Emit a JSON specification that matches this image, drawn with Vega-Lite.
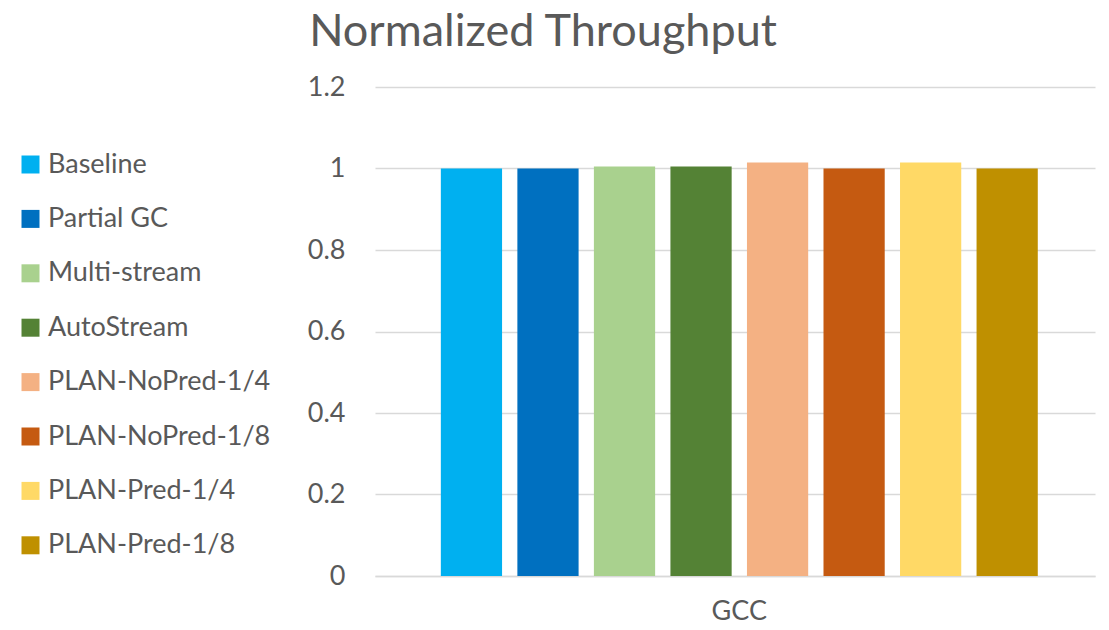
{
  "$schema": "https://vega.github.io/schema/vega-lite/v6.json",
  "autosize": "none",
  "width": 720,
  "height": 489,
  "padding": {"left": 375, "top": 87, "right": 14, "bottom": 54},
  "background": "white",
  "config": {
    "font": "Lato",
    "view": {"stroke": null}
  },
  "title": {
    "text": "Normalized Throughput",
    "fontSize": 45,
    "fontWeight": "normal",
    "color": "#595959",
    "font": "Lato",
    "anchor": "middle",
    "frame": "group",
    "dx": -192,
    "offset": 18
  },
  "data": {
    "values": [
      {"benchmark": "GCC", "scheme": "Baseline", "throughput": 1.0},
      {"benchmark": "GCC", "scheme": "Partial GC", "throughput": 1.0},
      {"benchmark": "GCC", "scheme": "Multi-stream", "throughput": 1.005},
      {"benchmark": "GCC", "scheme": "AutoStream", "throughput": 1.005},
      {"benchmark": "GCC", "scheme": "PLAN-NoPred-1/4", "throughput": 1.015},
      {"benchmark": "GCC", "scheme": "PLAN-NoPred-1/8", "throughput": 1.0},
      {"benchmark": "GCC", "scheme": "PLAN-Pred-1/4", "throughput": 1.015},
      {"benchmark": "GCC", "scheme": "PLAN-Pred-1/8", "throughput": 1.0}
    ]
  },
  "mark": {"type": "bar"},
  "encoding": {
    "x": {
      "field": "benchmark",
      "type": "nominal",
      "scale": {"paddingInner": 0, "paddingOuter": 0.088, "align": 0.54},
      "axis": {
        "title": null,
        "labelAngle": 0,
        "labelFontSize": 27,
        "labelColor": "#595959",
        "labelPadding": 22,
        "ticks": false,
        "domain": true,
        "domainColor": "#d9d9d9",
        "domainWidth": 1.5
      }
    },
    "xOffset": {
      "field": "scheme",
      "type": "nominal",
      "sort": null,
      "scale": {"paddingInner": 0.2, "paddingOuter": 0.1}
    },
    "y": {
      "field": "throughput",
      "type": "quantitative",
      "scale": {"domain": [0, 1.2], "nice": false},
      "axis": {
        "title": null,
        "values": [0, 0.2, 0.4, 0.6, 0.8, 1, 1.2],
        "format": ".1~f",
        "labelFontSize": 27,
        "labelColor": "#595959",
        "labelPadding": 30,
        "ticks": false,
        "domain": false,
        "gridColor": "#d9d9d9",
        "gridWidth": 1.5
      }
    },
    "color": {
      "field": "scheme",
      "type": "nominal",
      "sort": null,
      "scale": {
        "domain": ["Baseline", "Partial GC", "Multi-stream", "AutoStream", "PLAN-NoPred-1/4", "PLAN-NoPred-1/8", "PLAN-Pred-1/4", "PLAN-Pred-1/8"],
        "range": ["#00B0F0", "#0070C0", "#A9D18E", "#548235", "#F4B183", "#C55A11", "#FFD966", "#BF9000"]
      },
      "legend": {
        "title": null,
        "orient": "none",
        "legendX": -358,
        "legendY": 64,
        "symbolType": "square",
        "symbolSize": 324,
        "symbolStrokeWidth": 0,
        "labelFontSize": 27,
        "labelColor": "#595959",
        "labelOffset": 4,
        "rowPadding": 26.4,
        "labelLimit": 400
      }
    }
  }
}
